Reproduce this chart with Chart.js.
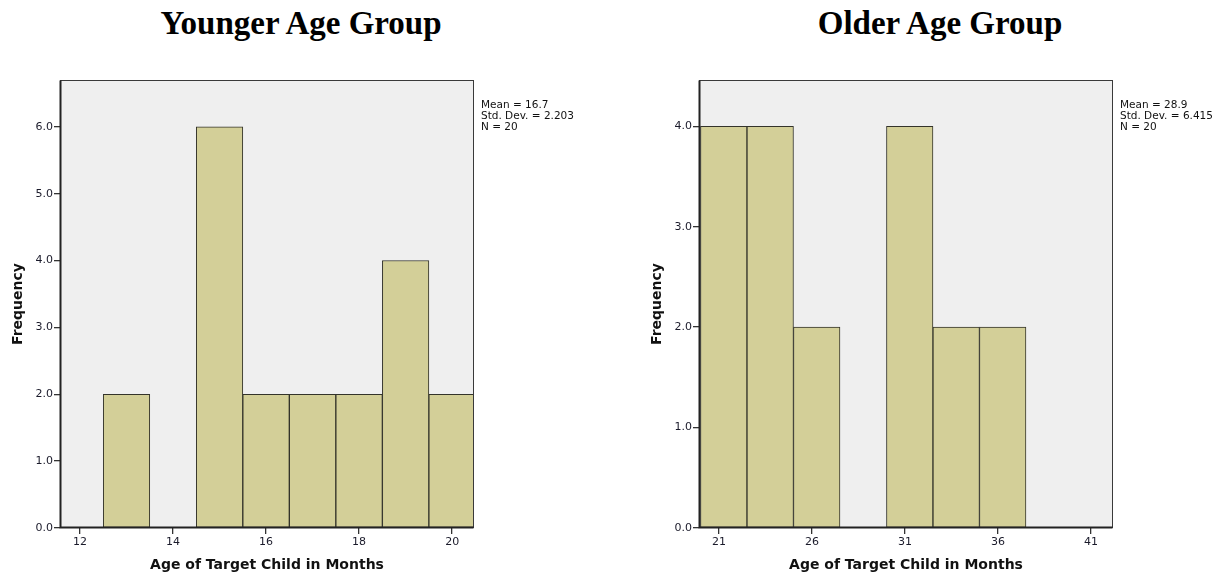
<!DOCTYPE html>
<html><head><meta charset="utf-8">
<script src="https://cdn.jsdelivr.net/npm/chart.js@4/dist/chart.umd.min.js"></script>
<style>
html,body{margin:0;padding:0;background:#fff;width:1220px;height:580px;overflow:hidden;position:relative}
.wrap{position:absolute;top:0;height:580px}
.title{position:absolute;top:5px;font:bold 33px "Liberation Serif";transform:translateX(-50%);white-space:nowrap;color:#000}
.stats{position:absolute;font:10.5px "DejaVu Sans";line-height:11px;color:#111;white-space:nowrap}
</style></head><body>
<div class="title" style="left:301px">Younger Age Group</div>
<div class="title" style="left:940px">Older Age Group</div>
<div class="wrap" style="left:0;width:610px"><canvas id="c1" width="610" height="580"></canvas></div>
<div class="wrap" style="left:639px;width:581px"><canvas id="c2" width="581" height="580"></canvas></div>
<div class="stats" style="left:481px;top:99px">Mean = 16.7<br>Std. Dev. = 2.203<br>N = 20</div>
<div class="stats" style="left:1120px;top:99px">Mean = 28.9<br>Std. Dev. = 6.415<br>N = 20</div>
<script>
// Younger age group: bin centers (months) and frequencies
const youngerBins = [13, 15, 16, 17, 18, 19, 20];
const youngerFreq = [2, 6, 2, 2, 2, 4, 2];
const youngerXTicks = [12, 14, 16, 18, 20];
const youngerYTicks = [0, 1, 2, 3, 4, 5, 6];
const youngerXRange = [11.57, 20.47];
const youngerYMax = 6.7;

// Older age group: bin centers (2.5-month bins) and frequencies
const olderBins = [21.25, 23.75, 26.25, 31.25, 33.75, 36.25];
const olderFreq = [4, 4, 2, 4, 2, 2];
const olderXTicks = [21, 26, 31, 36, 41];
const olderYTicks = [0, 1, 2, 3, 4];
const olderXRange = [19.92, 42.18];
const olderYMax = 4.46;

const plotFrame = {
  id: 'plotFrame',
  beforeDraw(chart) {
    const {ctx, chartArea: a} = chart;
    ctx.save();
    ctx.fillStyle = '#efefef';
    ctx.fillRect(a.left, a.top, a.right - a.left, a.bottom - a.top);
    ctx.restore();
  },
  afterDatasetsDraw(chart) {
    const {ctx, chartArea: a} = chart;
    const l = Math.round(a.left) + 0.5, t = Math.round(a.top) + 0.5;
    const r = Math.round(a.right) - 0.5, b = Math.round(a.bottom) - 0.5;
    ctx.save();
    ctx.strokeStyle = '#3a3a3a';
    ctx.lineWidth = 1;
    ctx.strokeRect(l, t, r - l, b - t);
    ctx.strokeStyle = '#222';
    ctx.lineWidth = 2;
    ctx.beginPath();
    ctx.moveTo(l, t); ctx.lineTo(l, b); ctx.lineTo(r, b);
    ctx.stroke();
    ctx.restore();
  }
};

const tickFont = {family: 'DejaVu Sans', size: 11};
const titleFont = {family: 'DejaVu Sans', size: 14, weight: 'bold'};

function makeHist(id, bins, freq, xTicks, yTicks, xRange, yMax, padRight) {
  new Chart(document.getElementById(id), {
    type: 'bar',
    data: {
      datasets: [{
        data: bins.map((b, i) => ({x: b, y: freq[i]})),
        backgroundColor: '#d3cf98',
        borderColor: '#33332a',
        borderWidth: 1,
        borderSkipped: false,
        barPercentage: 1,
        categoryPercentage: 1
      }]
    },
    options: {
      responsive: false,
      animation: false,
      layout: {padding: {top: 80, right: padRight, bottom: 0, left: 0}},
      plugins: {legend: {display: false}, tooltip: {enabled: false}},
      scales: {
        x: {
          type: 'linear',
          offset: false,
          min: xRange[0], max: xRange[1],
          afterBuildTicks: s => { s.ticks = xTicks.map(v => ({value: v})); },
          afterFit: s => { s.height = 52; },
          grid: {offset: false, drawOnChartArea: false, drawTicks: true, tickLength: 6, lineWidth: 1.3, color: '#333'},
          border: {display: false},
          ticks: {font: tickFont, color: '#1a1a2a', padding: 2, maxRotation: 0, callback: v => String(v)},
          title: {display: true, text: 'Age of Target Child in Months', font: titleFont, color: '#111', padding: {top: 0, bottom: 6}}
        },
        y: {
          min: 0, max: yMax,
          afterBuildTicks: s => { s.ticks = yTicks.map(v => ({value: v})); },
          afterFit: s => { s.width = 60; },
          grid: {drawOnChartArea: false, drawTicks: true, tickLength: 6, lineWidth: 1.3, color: '#333'},
          border: {display: false},
          ticks: {font: tickFont, color: '#1a1a2a', padding: 1, callback: v => Number(v).toFixed(1)},
          title: {display: true, text: 'Frequency', font: titleFont, color: '#111', padding: {top: 10, bottom: 0}}
        }
      }
    },
    plugins: [plotFrame]
  });
}

makeHist('c1', youngerBins, youngerFreq, youngerXTicks, youngerYTicks, youngerXRange, youngerYMax, 136);
makeHist('c2', olderBins, olderFreq, olderXTicks, olderYTicks, olderXRange, olderYMax, 107);
</script>
</body></html>
